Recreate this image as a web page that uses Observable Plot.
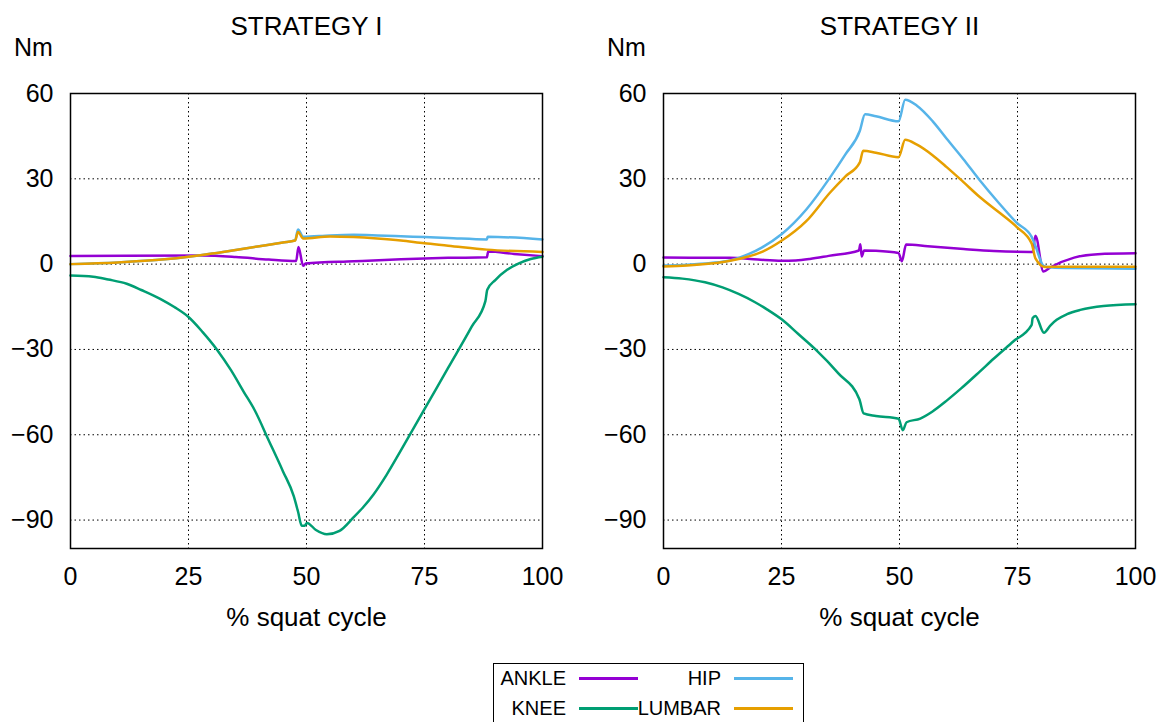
<!DOCTYPE html>
<html>
<head>
<meta charset="utf-8">
<script src="https://cdn.jsdelivr.net/npm/d3@7"></script>
<script src="https://cdn.jsdelivr.net/npm/@observablehq/plot@0.6"></script>
<style>
  html, body { margin: 0; padding: 0; background: #fff; overflow: hidden; }
  #wrap { position: relative; width: 1166px; height: 722px; font-family: "Liberation Sans", Arial, sans-serif; }
  .panel { position: absolute; top: 0; }
  #legend { position: absolute; left: 493px; top: 663px; width: 311px; height: 70px; border: 1px solid #000; box-sizing: border-box; }
  .lt { position: absolute; font-size: 20px; line-height: 20px; text-align: right; color: #000; white-space: nowrap; }
  .ll { position: absolute; height: 2.5px; }
</style>
</head>
<body>
<div id="wrap">
  <div id="p1" class="panel" style="left:0px"></div>
  <div id="p2" class="panel" style="left:593px"></div>
  <div id="legend"></div>
</div>
<script>
// ---------- data ----------
const seriesNames = ["ANKLE", "KNEE", "HIP", "LUMBAR"];
const seriesColors = ["#9400d3", "#009e73", "#56b4e9", "#e69f00"];
const xTicks = [0, 25, 50, 75, 100];
const yTicks = [60, 30, 0, -30, -60, -90];
const panelTitles = ["STRATEGY I", "STRATEGY II"];

// STRATEGY I
const s1Ankle = [[0,2.9],[28,3.0],[35,2.5],[42,1.6],[47.8,1.1],[48.3,6.0],[49.3,-0.6],[49.8,0.2],[60,1.0],[70,1.7],[80,2.2],[88.2,2.4],[88.5,4.4],[94,3.6],[100,2.8]];
const s1Knee = [[0,-4.0],[4.8,-4.4],[8,-5.4],[11.9,-6.9],[15,-9.1],[19,-12.2],[22,-15.1],[25,-18.6],[28,-23.9],[31,-30],[34,-37.3],[36.7,-44.9],[39,-51.3],[42,-62],[45,-72.8],[47.3,-81.6],[48.2,-87],[49,-92],[49.6,-92],[50.1,-91],[52,-93.5],[54.3,-95],[57,-93.8],[60,-89],[62,-85.5],[64.2,-81],[67,-74],[70,-65.5],[75,-51],[80,-36.5],[85,-22],[87.9,-13],[88.3,-9],[90,-5.6],[92.5,-2],[95,0.3],[97.5,1.8],[100,2.6]];
const s1Hip = [[0,0],[10,0.6],[20,1.7],[25,2.6],[30,3.7],[35,5],[40,6.3],[45,7.6],[47.6,8.4],[48.2,12.2],[49.3,9.6],[55,10.1],[60,10.3],[65,10.1],[70,9.8],[75,9.5],[80,9.2],[88.2,8.7],[88.4,9.6],[100,8.7]];
const s1Lumbar = [[0,0],[10,0.6],[20,1.7],[25,2.6],[30,3.7],[35,5],[40,6.3],[45,7.6],[47.6,8.3],[48.2,11.3],[49.3,9.0],[55,9.7],[60,9.5],[65,9.0],[70,8.3],[75,7.3],[80,6.5],[88.2,5.1],[100,4.3]];

// STRATEGY II
const s2Ankle = [[0,2.3],[14,2.2],[20,1.6],[25,1.2],[28,1.3],[31,1.8],[35,2.9],[41.4,4.8],[41.7,7.0],[42.0,2.7],[42.5,4.8],[45,4.7],[49.8,3.9],[50.5,1.0],[51.4,6.9],[56,6.3],[63.6,5.3],[70,4.6],[77.7,4.3],[78.2,4.3],[78.8,10],[80.5,-2.6],[82,-1.1],[87,2.3],[92,3.5],[100,3.8]];
const s2Knee = [[0,-4.6],[4,-5.1],[8.8,-6.4],[12.5,-8.2],[15.9,-10.5],[19.4,-13.4],[22,-16],[25.1,-19.5],[28.5,-24.5],[32.2,-30],[37.1,-38.5],[41.5,-47.5],[42.4,-52.5],[45,-53.4],[49.8,-54.4],[50.7,-58.4],[51.5,-55.6],[54.4,-54.3],[57,-51.8],[60,-48],[63,-43.8],[67,-37.8],[70,-33.2],[74.1,-27.2],[78,-21.4],[78.2,-19.0],[78.8,-18.2],[80.6,-24.1],[82,-21.5],[83.3,-19.6],[85.5,-17.6],[88.3,-16.1],[93.2,-14.7],[100,-14.1]];
const s2Hip = [[0,-0.5],[5,-0.2],[10,0.4],[14.1,1.3],[18,3.5],[21,6],[25,10.5],[30.3,19.3],[35.3,30.5],[38.5,38.5],[41.6,46.9],[42.7,52.7],[45,52],[49.8,50.2],[51.2,57.8],[53.7,55.7],[57,50.3],[60,44.1],[63.5,37],[67,29.5],[71,21.6],[74.8,14.6],[78,9.6],[78.8,6.4],[80.5,-0.6],[81.2,-1.0],[85,-1.4],[100,-1.6]];
const s2Lumbar = [[0,-0.8],[5,-0.5],[10,0.2],[14.1,1.2],[18,2.7],[21,4.4],[25,8.2],[30.3,15.2],[35.3,25.2],[38.5,30.8],[41.6,35.8],[42.3,39.9],[45,39.2],[49.8,37.6],[51.2,43.7],[53.7,42],[57,38.3],[60,34.1],[63.5,28.9],[67,23.6],[71,18.3],[74.8,13.1],[78,7.3],[78.8,2.0],[80.8,-1.0],[85,-0.9],[100,-0.9]];

// ---------- build ----------
function toRows(panelSeries) {
  const rows = [];
  panelSeries.forEach((arr, i) => arr.forEach(([x, y]) => rows.push({x, y, s: seriesNames[i]})));
  return rows;
}

function panel(title, panelSeries, width, marginRight) {
  const rows = toRows(panelSeries);
  return Plot.plot({
    width, height: 650,
    marginLeft: 70, marginRight, marginTop: 93, marginBottom: 102,
    style: {fontFamily: "'Liberation Sans', Arial, sans-serif", fontSize: "25px", color: "#000", background: "#fff", overflow: "visible"},
    x: {domain: [0, 100]},
    y: {domain: [-100, 60]},
    color: {domain: seriesNames, range: seriesColors},
    marks: [
      Plot.gridX(xTicks.slice(1, -1), {stroke: "#000", strokeOpacity: 1, strokeWidth: 1, strokeDasharray: "1.5,3"}),
      Plot.gridY(yTicks.slice(1), {stroke: "#000", strokeOpacity: 1, strokeWidth: 1, strokeDasharray: "1.5,3"}),
      Plot.axisX({ticks: xTicks, tickSize: 0, tickPadding: 19, fontSize: 25, label: null}),
      Plot.axisX({ticks: [], tickSize: 0, fontSize: 26,
                  label: "% squat cycle", labelAnchor: "center", labelArrow: "none", labelOffset: 77}),
      Plot.axisY({ticks: yTicks, tickSize: 0, tickPadding: 17, fontSize: 25, label: null}),
      Plot.line(rows, {x: "x", y: "y", z: "s", stroke: "s", strokeWidth: 2.5, strokeLinejoin: "round", curve: "monotone-x"}),
      Plot.frame({stroke: "#000", strokeWidth: 1.5}),
      Plot.text([title], {frameAnchor: "top", dy: -77, fontSize: 26, textAnchor: "middle"}),
      Plot.text(["Nm"], {frameAnchor: "top-left", dx: -37, dy: -55, fontSize: 25, textAnchor: "middle"})
    ]
  });
}

document.getElementById("p1").append(panel(panelTitles[0], [s1Ankle, s1Knee, s1Hip, s1Lumbar], 583, 41));
document.getElementById("p2").append(panel(panelTitles[1], [s2Ankle, s2Knee, s2Hip, s2Lumbar], 573, 31));

// legend
const lg = document.getElementById("legend");
const slots = [
  {textRight: 565, lineLeft: 579, top: 678},
  {textRight: 565, lineLeft: 579, top: 708},
  {textRight: 720, lineLeft: 734, top: 678},
  {textRight: 720, lineLeft: 734, top: 708}
];
seriesNames.forEach((name, i) => {
  const sl = slots[i];
  const t = document.createElement("div");
  t.className = "lt";
  t.textContent = name;
  t.style.right = (802 - sl.textRight) + "px";
  t.style.top = (sl.top - 663 - 11) + "px";
  lg.append(t);
  const l = document.createElement("div");
  l.className = "ll";
  l.style.background = seriesColors[i];
  l.style.left = (sl.lineLeft - 494) + "px";
  l.style.width = "59px";
  l.style.top = (sl.top - 663 - 2) + "px";
  lg.append(l);
});
</script>
</body>
</html>
